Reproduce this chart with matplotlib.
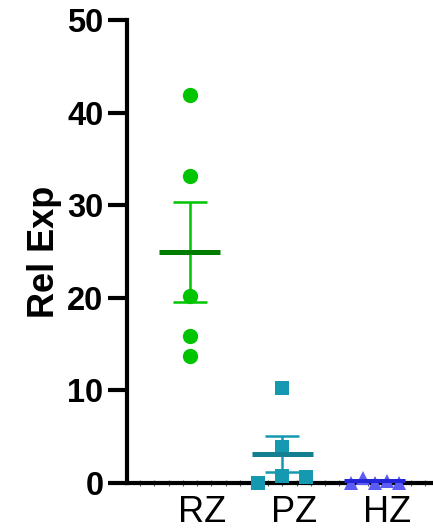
import numpy as np
import matplotlib
matplotlib.use("Agg")
import matplotlib.pyplot as plt
from matplotlib.transforms import ScaledTranslation
from matplotlib.ticker import MultipleLocator

plt.rcParams['font.family'] = ['Liberation Sans', 'DejaVu Sans']

categories = ["RZ", "PZ", "HZ"]
rz_values = [41.9, 33.2, 20.2, 15.9, 13.7]
pz_values = [0.0, 10.3, 3.9, 0.75, 0.7]
hz_values = [0.05, 0.5, 0.05, 0.2, 0.05]
y_ticks = [0, 10, 20, 30, 40, 50]

groups = [rz_values, pz_values, hz_values]
# layout: horizontal scatter offsets within each group
offsets = [
    [0, 0, 0, 0, 0],
    [-0.26, 0, 0, 0, 0.26],
    [-0.26, -0.13, 0, 0.13, 0.26],
]
markers = ["o", "s", "^"]
pt_colors = ["#00C400", "#1499B0", "#5B5BF5"]
mean_colors = ["#007D00", "#137F91", "#2626D9"]
bar_colors = ["#00C400", "#1499B0", "#5B5BF5"]
msizes = [11, 10, 10.5]

fig = plt.figure(figsize=(4.33, 5.31), dpi=100)
ax = fig.add_axes([127/433, 48/531, 1 - 127/433, 463/531])

for i, vals in enumerate(groups):
    x0 = i + 1
    v = np.array(vals)
    m = v.mean()
    sem = v.std(ddof=1) / np.sqrt(len(v))
    xs = x0 + np.array(offsets[i])
    ax.errorbar([x0], [m], yerr=[sem], fmt='none', ecolor=bar_colors[i],
                elinewidth=1.8, capsize=12, capthick=1.8, zorder=2)
    ax.plot(xs, v, linestyle='none', marker=markers[i], color=pt_colors[i],
            markersize=msizes[i], markeredgewidth=0, zorder=3, clip_on=False)
    ax.hlines(m, x0 - 0.33, x0 + 0.33, color=mean_colors[i], linewidth=3.6, zorder=4)

ax.set_xlim(0.32, 3.63)
ax.set_ylim(0, 50)

for s in ['top', 'right']:
    ax.spines[s].set_visible(False)
ax.spines['left'].set_linewidth(3)
ax.spines['bottom'].set_linewidth(3)
ax.spines['bottom'].set_zorder(2.5)

ax.set_yticks(y_ticks)
ax.set_yticklabels([str(t) for t in y_ticks], fontsize=23.5, fontweight='bold')
ax.tick_params(axis='y', length=14, width=3, pad=3)

ax.set_xticks([1, 2, 3])
ax.set_xticklabels(categories, fontsize=26)
ax.tick_params(axis='x', which='major', length=0, pad=9)
ax.xaxis.set_minor_locator(MultipleLocator(0.154))
ax.tick_params(axis='x', which='minor', length=5, width=0.8, direction='inout', color='#555555')
for lab in ax.get_xticklabels():
    lab.set_transform(lab.get_transform() + ScaledTranslation(0.12, 0, fig.dpi_scale_trans))

ax.set_ylabel("Rel Exp", fontsize=26, fontweight='bold', labelpad=4)

fig.savefig("out.png", dpi=100)
